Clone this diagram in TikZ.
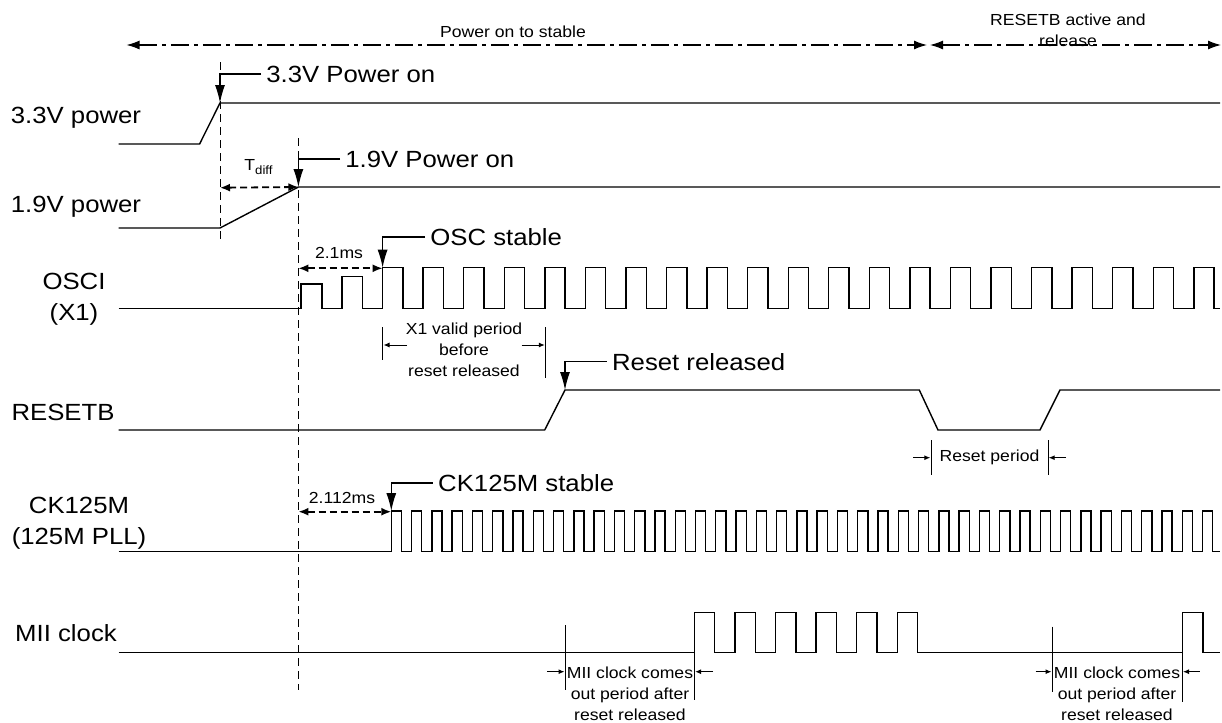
\documentclass[tikz,border=0pt]{standalone}
\usepackage{fontspec}
\setmainfont[FakeStretch=1.1]{Liberation Sans}
\usetikzlibrary{arrows.meta}

\begin{document}
\begin{tikzpicture}[x=0.5pt, y=-0.5pt,
    % --- Styles ---
    wave/.style={line width=0.7pt, line join=miter},
    guide/.style={line width=0.5pt, dash pattern=on 4pt off 2.5pt},
    callout/.style={line width=0.6pt, -{Latex[length=9pt,width=5pt]}},
    dimArrow/.style={line width=0.9pt, dash pattern=on 3.5pt off 2pt,
      {Latex[length=5pt,width=4pt]}-{Latex[length=5pt,width=4pt]}},
    spanArrow/.style={line width=0.6pt,
      dash pattern=on 9pt off 2.5pt on 2pt off 2.5pt,
      {Latex[length=6.5pt,width=4.5pt]}-{Latex[length=6.5pt,width=4.5pt]}},
    tinyArrow/.style={line width=0.5pt, -{Latex[length=3pt,width=2.5pt]}},
    bar/.style={line width=0.5pt},
    sigLabel/.style={font=\fontsize{11.7}{15.5}\selectfont, align=center, inner sep=0pt},
    bigText/.style={font=\fontsize{11.7}{14}\selectfont, anchor=west, inner sep=2.5pt},
    smallText/.style={font=\fontsize{8}{10.5}\selectfont, align=center, inner sep=0pt}
]
\useasboundingbox (0,0) rectangle (1222,723);

%=====================
% Phases on top
%=====================
\coordinate (phaseA) at (126.5,45);
\coordinate (phaseB) at (927,45);
\coordinate (phaseC) at (930,45);
\coordinate (phaseD) at (1221,45);
\draw[spanArrow] (phaseA) -- (phaseB);
\draw[spanArrow] (phaseC) -- (phaseD);
\node[smallText] (phaseTxtA) at (513,31.5) {Power on to stable};
\node[smallText] (phaseTxtB) at (1068,30.5) {RESETB active and\\release};

%=====================
% Signal names
%=====================
\node[sigLabel] (lab33) at (76,118) {3.3V power};
\node[sigLabel] (lab19) at (76,207) {1.9V power};
\node[sigLabel] (labOsc) at (74,299) {OSCI\\(X1)};
\node[sigLabel] (labRst) at (63,412) {RESETB};
\node[sigLabel] (labCk) at (79,523) {CK125M\\(125M PLL)};
\node[sigLabel] (labMii) at (66,633) {MII clock};

%=====================
% Guide lines
%=====================
\coordinate (g33top) at (220,62);
\coordinate (g33bot) at (220,240);
\coordinate (g19top) at (298.4,138);
\coordinate (g19bot) at (298.4,690);
\draw[guide] (g33top) -- (g33bot);
\draw[guide] (g19top) -- (g19bot);

%=====================
% 3.3V and 1.9V power
%=====================
\draw[wave] (118.6,144) -- (199.6,144) -- (220,103) -- (1220,103);
\draw[wave] (118.6,228) -- (220,228) -- (298.4,187) -- (1220,187);

\coordinate (on33) at (220,103);
\node[bigText] (txt33) at (261,74) {3.3V Power on};
\draw[callout] (txt33.west) -| (on33);

\coordinate (on19) at (298.4,187);
\node[bigText] (txt19) at (340,159) {1.9V Power on};
\draw[callout] (txt19.west) -| (on19);

\coordinate (diffL) at (220,187.7);
\draw[dimArrow] (diffL) -- (on19);
\node[smallText] (diffTxt) at (259,167) {T\textsubscript{diff}};

%=====================
% OSCI (X1)
%=====================
\draw[wave] (118.6,308.3) -- (301,308.3) -- (301,284) -- (322,284) -- (322,308.3)
  -- (342,308.3) -- (342,276.7) -- (362.5,276.7) -- (362.5,308.3) -- (382.6,308.3)
  \foreach \k in {0,...,19} { -- ++(0,-40.6) -- ++(20.28,0) -- ++(0,40.6) -- ++(20.28,0) }
  -- ++(0,-40.6) -- ++(20.28,0) -- ++(0,40.6) -- (1220,308.3);

\coordinate (oscOk) at (382.6,267.7);
\node[bigText] (txtOsc) at (425,237) {OSC stable};
\draw[callout] (txtOsc.west) -| (oscOk);

\coordinate (oscL) at (298.4,268.3);
\coordinate (oscR) at (382.6,268.3);
\draw[dimArrow] (oscL) -- (oscR);
\node[smallText] (oscTxt) at (339,253) {2.1ms};

% X1 valid period
\draw[bar] (382.6,327) -- (382.6,360);
\draw[bar] (545.5,327) -- (545.5,378);
\draw[tinyArrow] (407,345) -- (383.5,345);
\draw[tinyArrow] (521.7,345) -- (544.8,345);
\node[smallText] (validTxt) at (464,350) {X1 valid period\\before\\reset released};

%=====================
% RESETB
%=====================
\draw[wave] (118.6,430) -- (544.7,430) -- (565,390) -- (919.3,390) -- (938,430)
  -- (1040,430) -- (1060,390) -- (1220,390);

\coordinate (rstOk) at (565,390);
\node[bigText] (txtRst) at (606.7,361.7) {Reset released};
\draw[callout] (txtRst.west) -| (rstOk);

% Reset period
\draw[bar] (931,440) -- (931,475);
\draw[bar] (1048,440) -- (1048,475);
\draw[tinyArrow] (913,457.7) -- (930.3,457.7);
\draw[tinyArrow] (1066,457.7) -- (1048.7,457.7);
\node[smallText] (rstTxt) at (989.5,457) {Reset period};

%=====================
% CK125M
%=====================
\draw[wave] (118.6,551.7) -- (391.3,551.7)
  \foreach \k in {0,...,39} { -- ++(0,-40.7) -- ++(10.14,0) -- ++(0,40.7) -- ++(10.14,0) }
  -- ++(0,-40.7) -- ++(10.14,0) -- ++(0,40.7) -- (1220,551.7);

\coordinate (ckOk) at (391.3,511);
\node[bigText] (txtCk) at (432.8,483) {CK125M stable};
\draw[callout] (txtCk.west) -| (ckOk);

\coordinate (ckL) at (298.4,511.7);
\coordinate (ckR) at (391.3,511.7);
\draw[dimArrow] (ckL) -- (ckR);
\node[smallText] (ckTxt) at (342,498) {2.112ms};

%=====================
% MII clock
%=====================
\draw[wave] (118.6,652.7) -- (694.4,652.7)
  \foreach \k in {0,...,4} { -- ++(0,-40) -- ++(20.28,0) -- ++(0,40) -- ++(20.28,0) }
  -- ++(0,-40) -- ++(20.28,0) -- ++(0,40) -- (1182.3,652.7)
  -- (1182.3,612.7) -- (1203,612.7) -- (1203,652.7) -- (1220,652.7);

% MII clock comes out, first
\draw[bar] (565.2,625) -- (565.2,690);
\draw[bar] (694.4,652.7) -- (694.4,700);
\draw[tinyArrow] (547.4,671.7) -- (564.5,671.7);
\draw[tinyArrow] (713,671.7) -- (695.1,671.7);
\node[smallText] (miiTxtA) at (630,694) {MII clock comes\\out period after\\reset released};

% MII clock comes out, second
\draw[bar] (1052.2,626.7) -- (1052.2,691.7);
\draw[bar] (1182.3,652.7) -- (1182.3,701.7);
\draw[tinyArrow] (1035.5,671.7) -- (1051.5,671.7);
\draw[tinyArrow] (1199.8,671.7) -- (1183,671.7);
\node[smallText] (miiTxtB) at (1117,694) {MII clock comes\\out period after\\reset released};

\end{tikzpicture}
\end{document}
